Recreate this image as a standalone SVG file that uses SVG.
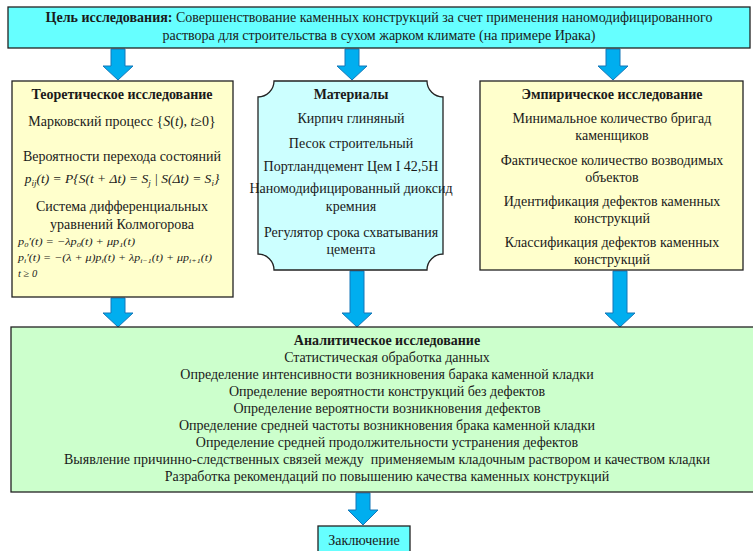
<svg xmlns="http://www.w3.org/2000/svg" width="753" height="551" viewBox="0 0 753 551">
<defs>
<style>
text{font-family:"Liberation Serif","Times New Roman",serif;fill:#1a1a1a;}
.t{font-size:14px;text-anchor:middle;}
.b{font-weight:bold;}
.box{stroke:#222;stroke-width:1.3;}
.arr{fill:#00AEEF;stroke:#1577B8;stroke-width:1;}
.m{font-style:italic;font-size:13.5px;text-anchor:middle;}
.s{font-style:italic;font-size:10.5px;}
</style>
</defs>
<rect width="753" height="551" fill="#fff"/>

<g id="connectors">
<path class="arr" d="M111 49 H125 V66 H133 L118 80 L103 66 H111 Z"/>
<path class="arr" d="M345 49 H359 V66 H367 L352 80 L337 66 H345 Z"/>
<path class="arr" d="M606 49 H620 V66 H628 L613 80 L598 66 H606 Z"/>
<path class="arr" d="M111 298 H125 V313 H133 L118 327 L103 313 H111 Z"/>
<path class="arr" d="M350 271 H364 V313 H372 L357 327 L342 313 H350 Z"/>
<path class="arr" d="M613 271 H627 V313 H635 L620 327 L605 313 H613 Z"/>
<path class="arr" d="M356 493 H370 V510 H378 L363 525 L348 510 H356 Z"/>
</g>

<g id="goal">
<rect class="box" x="8" y="7" width="742" height="41" fill="#66FFFF"/>
<text class="t" x="379" y="22"><tspan class="b">Цель исследования:</tspan> Совершенствование каменных конструкций за счет применения наномодифицированного</text>
<text class="t" x="379" y="40">раствора для строительства в сухом жарком климате (на примере Ирака)</text>
</g>

<g id="theory">
<rect class="box" x="12" y="81" width="221" height="216" fill="#FFFFCC"/>
<text class="t b" x="122" y="99">Теоретическое исследование</text>
<text class="t" x="122" y="126">Марковский процесс {<tspan font-style="italic">S</tspan>(<tspan font-style="italic">t</tspan>), <tspan font-style="italic">t</tspan>≥0}</text>
<text class="t" x="122" y="161">Вероятности перехода состояний</text>
<text class="m" x="122" y="183">p<tspan font-size="9" dy="3">ij</tspan><tspan dy="-3">(t) = P{S(t + Δt) = S</tspan><tspan font-size="9" dy="3">j</tspan><tspan dy="-3"> | S(Δt) = S</tspan><tspan font-size="9" dy="3">i</tspan><tspan dy="-3">}</tspan></text>
<text class="t" x="122" y="211">Система дифференциальных</text>
<text class="t" x="122" y="229">уравнений Колмогорова</text>
<text class="s" x="18" y="245" textLength="117" lengthAdjust="spacingAndGlyphs">p<tspan font-size="7" dy="2">0</tspan><tspan dy="-2">′(t) = −λp</tspan><tspan font-size="7" dy="2">0</tspan><tspan dy="-2">(t) + μp</tspan><tspan font-size="7" dy="2">1</tspan><tspan dy="-2">(t)</tspan></text>
<text class="s" x="18" y="261" textLength="194" lengthAdjust="spacingAndGlyphs">p<tspan font-size="7" dy="2">i</tspan><tspan dy="-2">′(t) = −(λ + μ)p</tspan><tspan font-size="7" dy="2">i</tspan><tspan dy="-2">(t) + λp</tspan><tspan font-size="7" dy="2">i−1</tspan><tspan dy="-2">(t) + μp</tspan><tspan font-size="7" dy="2">i+1</tspan><tspan dy="-2">(t)</tspan></text>
<text class="s" x="18" y="277">t ≥ 0</text>
</g>

<g id="materials">
<path class="box" fill="#CCFFFF" d="M274 81 L427 81 A16 16 0 0 0 443 97 L443 254 A16 16 0 0 0 427 270 L274 270 A16 16 0 0 0 258 254 L258 97 A16 16 0 0 0 274 81 Z"/>
<text class="t b" x="351" y="99">Материалы</text>
<text class="t" x="351" y="123">Кирпич глиняный</text>
<text class="t" x="351" y="148">Песок строительный</text>
<text class="t" x="351" y="171">Портландцемент Цем I 42,5Н</text>
<text class="t" x="351" y="193">Наномодифицированный диоксид</text>
<text class="t" x="351" y="211">кремния</text>
<text class="t" x="351" y="237">Регулятор срока схватывания</text>
<text class="t" x="351" y="254">цемента</text>
</g>

<g id="empirical">
<rect class="box" x="480" y="81" width="263" height="189" fill="#FFFFCC"/>
<text class="t b" x="612" y="99">Эмпирическое исследование</text>
<text class="t" x="612" y="123">Минимальное количество бригад</text>
<text class="t" x="612" y="140">каменщиков</text>
<text class="t" x="612" y="165">Фактическое количество возводимых</text>
<text class="t" x="612" y="182">объектов</text>
<text class="t" x="612" y="206">Идентификация дефектов каменных</text>
<text class="t" x="612" y="223">конструкций</text>
<text class="t" x="612" y="247">Классификация дефектов каменных</text>
<text class="t" x="612" y="264">конструкций</text>
</g>

<g id="analytical">
<rect class="box" x="11" y="327" width="750" height="165" fill="#CCFFCC"/>
<text class="t b" x="387" y="345">Аналитическое исследование</text>
<text class="t" x="387" y="362">Статистическая обработка данных</text>
<text class="t" x="387" y="379">Определение интенсивности возникновения барака каменной кладки</text>
<text class="t" x="387" y="396">Определение вероятности конструкций без дефектов</text>
<text class="t" x="387" y="413">Определение вероятности возникновения дефектов</text>
<text class="t" x="387" y="430">Определение средней частоты возникновения брака каменной кладки</text>
<text class="t" x="387" y="447">Определение средней продолжительности устранения дефектов</text>
<text class="t" x="387" y="464" xml:space="preserve">Выявление причинно-следственных связей между  применяемым кладочным раствором и качеством кладки</text>
<text class="t" x="387" y="481">Разработка рекомендаций по повышению качества каменных конструкций</text>
</g>

<g id="conclusion">
<rect class="box" x="318" y="526" width="92" height="30" fill="#66FFFF"/>
<text class="t" x="364" y="545">Заключение</text>
</g>
</svg>
